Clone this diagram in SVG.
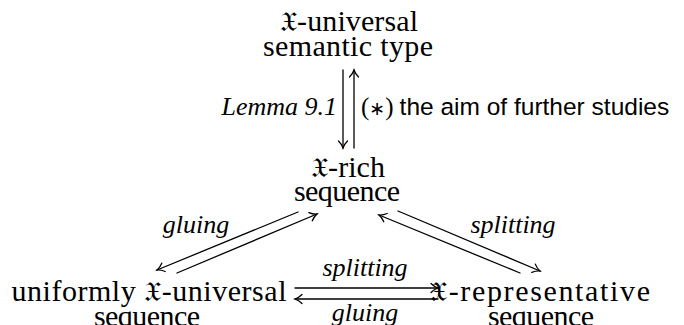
<svg xmlns="http://www.w3.org/2000/svg" width="684" height="325" viewBox="0 0 684 325" font-family="'Liberation Serif', serif">
<style>
svg, #labels text, #n-top text, #n-rich text, #n-uni text, #n-rep text { font-family: 'Liberation Serif', serif !important; fill: #000; }
#labels .it { font-style: italic !important; }
#labels .ss { font-family: 'Liberation Sans', sans-serif !important; }
#n-top .fx, #n-rich .fx, #n-uni .fx, #n-rep .fx, #labels .fx { font-family: 'DejaVu Sans', sans-serif !important; }
</style>
<g id="connectors" fill="none" stroke="#000" stroke-width="1.3" stroke-linecap="round">
<path d="M343,70 L343,148"/>
<path d="M354,148 L354,70"/>
<path d="M298,212 L157,270"/>
<path d="M177,273 L317,214"/>
<path d="M398,211 L540,271"/>
<path d="M520,273 L379,215"/>
<path d="M295,288 L438,288"/>
<path d="M438,299 L295,299"/>
<path d="M-7,-4.5 C-4.5,-2 -1.5,-0.5 0,0 C-1.5,0.5 -4.5,2 -7,4.5" transform="translate(343,148) rotate(90)"/>
<path d="M-7,-4.5 C-4.5,-2 -1.5,-0.5 0,0 C-1.5,0.5 -4.5,2 -7,4.5" transform="translate(354,70) rotate(-90)"/>
<path d="M-7,-4.5 C-4.5,-2 -1.5,-0.5 0,0 C-1.5,0.5 -4.5,2 -7,4.5" transform="translate(157,270) rotate(157.64)"/>
<path d="M-7,-4.5 C-4.5,-2 -1.5,-0.5 0,0 C-1.5,0.5 -4.5,2 -7,4.5" transform="translate(317,214) rotate(-22.85)"/>
<path d="M-7,-4.5 C-4.5,-2 -1.5,-0.5 0,0 C-1.5,0.5 -4.5,2 -7,4.5" transform="translate(540,271) rotate(22.91)"/>
<path d="M-7,-4.5 C-4.5,-2 -1.5,-0.5 0,0 C-1.5,0.5 -4.5,2 -7,4.5" transform="translate(379,215) rotate(202.36)"/>
<path d="M-7,-4.5 C-4.5,-2 -1.5,-0.5 0,0 C-1.5,0.5 -4.5,2 -7,4.5" transform="translate(438,288)"/>
<path d="M-7,-4.5 C-4.5,-2 -1.5,-0.5 0,0 C-1.5,0.5 -4.5,2 -7,4.5" transform="translate(295,299) rotate(180)"/>
</g>
<g id="labels">
<text class="it" x="337" y="115" style="font-family:'Liberation Serif',serif" font-style="italic" font-size="26" text-anchor="end">Lemma 9.1</text>
<text x="361" y="115" style="font-family:'Liberation Serif',serif" font-size="25">(<tspan class="fx" style="font-family:'DejaVu Sans',sans-serif" font-size="19">∗</tspan>)<tspan class="ss" style="font-family:'Liberation Sans',sans-serif" font-size="24.5" dx="6">the aim of further studies</tspan></text>
<text class="it" x="196" y="233" style="font-family:'Liberation Serif',serif" font-style="italic" font-size="26" text-anchor="middle">gluing</text>
<text class="it" x="513" y="233" style="font-family:'Liberation Serif',serif" font-style="italic" font-size="26" text-anchor="middle">splitting</text>
<text class="it" x="365" y="276" style="font-family:'Liberation Serif',serif" font-style="italic" font-size="26" text-anchor="middle">splitting</text>
<text class="it" x="365" y="321" style="font-family:'Liberation Serif',serif" font-style="italic" font-size="26" text-anchor="middle">gluing</text>
</g>
<g id="n-top">
<text x="349" y="31" style="font-family:'Liberation Serif',serif" font-size="30" text-anchor="middle" textLength="138" lengthAdjust="spacing"><tspan class="fx" style="font-family:'DejaVu Sans',sans-serif" font-size="28">𝔛</tspan>-universal</text>
<text x="348" y="56" style="font-family:'Liberation Serif',serif" font-size="30" text-anchor="middle" textLength="170" lengthAdjust="spacing">semantic type</text>
</g>
<g id="n-rich">
<text x="348" y="177" style="font-family:'Liberation Serif',serif" font-size="30" text-anchor="middle" textLength="74" lengthAdjust="spacing"><tspan class="fx" style="font-family:'DejaVu Sans',sans-serif" font-size="28">𝔛</tspan>-rich</text>
<text x="347" y="201" style="font-family:'Liberation Serif',serif" font-size="30" text-anchor="middle" textLength="106" lengthAdjust="spacing">sequence</text>
</g>
<g id="n-uni">
<text x="149" y="301" style="font-family:'Liberation Serif',serif" font-size="30" text-anchor="middle" textLength="275" lengthAdjust="spacing">uniformly <tspan class="fx" style="font-family:'DejaVu Sans',sans-serif" font-size="28">𝔛</tspan>-universal</text>
<text x="147" y="326" style="font-family:'Liberation Serif',serif" font-size="30" text-anchor="middle" textLength="106" lengthAdjust="spacing">sequence</text>
</g>
<g id="n-rep">
<text x="540" y="301" style="font-family:'Liberation Serif',serif" font-size="30" text-anchor="middle" textLength="220" lengthAdjust="spacing"><tspan class="fx" style="font-family:'DejaVu Sans',sans-serif" font-size="28">𝔛</tspan>-representative</text>
<text x="541" y="326" style="font-family:'Liberation Serif',serif" font-size="30" text-anchor="middle" textLength="106" lengthAdjust="spacing">sequence</text>
</g>
</svg>
